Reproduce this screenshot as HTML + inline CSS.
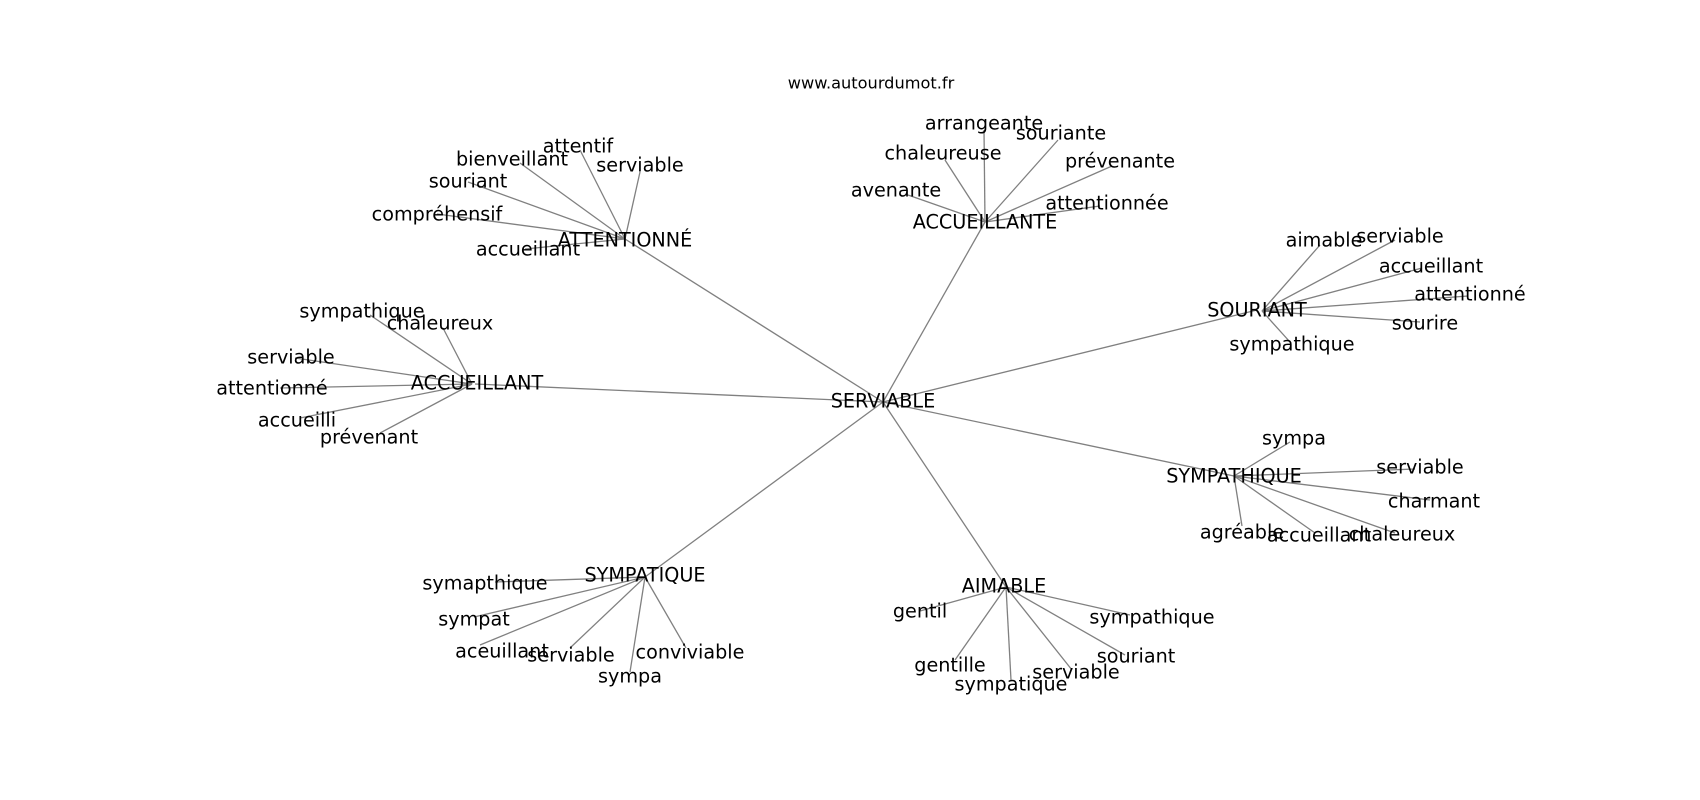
<!DOCTYPE html>
<html><head><meta charset="utf-8"><style>
html,body{margin:0;padding:0;background:#fff;}
svg{display:block;}
text{font-family:"DejaVu Sans","Liberation Sans",sans-serif;font-size:19.2px;fill:#000;text-anchor:middle;dominant-baseline:central;}
line{stroke:#808080;stroke-width:1.3;}
</style></head><body>
<svg width="1700" height="800" viewBox="0 0 1700 800" xmlns="http://www.w3.org/2000/svg">
<g>
<line x1="883" y1="402" x2="625" y2="239"/>
<line x1="883" y1="402" x2="475" y2="384"/>
<line x1="883" y1="402" x2="985" y2="222"/>
<line x1="883" y1="402" x2="1257" y2="310"/>
<line x1="883" y1="402" x2="1234" y2="476"/>
<line x1="883" y1="402" x2="645" y2="577"/>
<line x1="883" y1="402" x2="1006" y2="587"/>
<line x1="625" y1="239" x2="525" y2="249"/>
<line x1="625" y1="239" x2="437" y2="214"/>
<line x1="625" y1="239" x2="468" y2="182"/>
<line x1="625" y1="239" x2="520" y2="163"/>
<line x1="625" y1="239" x2="580" y2="150"/>
<line x1="625" y1="239" x2="640" y2="172"/>
<line x1="472" y1="384" x2="370" y2="315"/>
<line x1="472" y1="384" x2="443" y2="328"/>
<line x1="472" y1="384" x2="295" y2="358"/>
<line x1="472" y1="384" x2="280" y2="388"/>
<line x1="472" y1="384" x2="300" y2="418"/>
<line x1="472" y1="384" x2="380" y2="433"/>
<line x1="985" y1="222" x2="984" y2="130"/>
<line x1="985" y1="222" x2="1058" y2="140"/>
<line x1="985" y1="222" x2="945" y2="160"/>
<line x1="985" y1="222" x2="1112" y2="166"/>
<line x1="985" y1="222" x2="908" y2="195"/>
<line x1="985" y1="222" x2="1100" y2="206"/>
<line x1="1262" y1="311" x2="1320" y2="245"/>
<line x1="1262" y1="311" x2="1395" y2="240"/>
<line x1="1262" y1="311" x2="1422" y2="268"/>
<line x1="1262" y1="311" x2="1468" y2="296"/>
<line x1="1262" y1="311" x2="1420" y2="322"/>
<line x1="1262" y1="311" x2="1290" y2="342"/>
<line x1="1234" y1="476" x2="1290" y2="442"/>
<line x1="1234" y1="476" x2="1415" y2="469"/>
<line x1="1234" y1="476" x2="1430" y2="500"/>
<line x1="1234" y1="476" x2="1242" y2="526"/>
<line x1="1234" y1="476" x2="1315" y2="533"/>
<line x1="1234" y1="476" x2="1395" y2="533"/>
<line x1="645" y1="577" x2="495" y2="582"/>
<line x1="645" y1="577" x2="474" y2="617"/>
<line x1="645" y1="577" x2="480" y2="645"/>
<line x1="645" y1="577" x2="570" y2="648"/>
<line x1="645" y1="577" x2="686" y2="648"/>
<line x1="645" y1="577" x2="630" y2="672"/>
<line x1="1006" y1="587" x2="920" y2="611"/>
<line x1="1006" y1="587" x2="1130" y2="615"/>
<line x1="1006" y1="587" x2="955" y2="660"/>
<line x1="1006" y1="587" x2="1011" y2="680"/>
<line x1="1006" y1="587" x2="1072" y2="670"/>
<line x1="1006" y1="587" x2="1125" y2="655"/>
</g>
<text x="871" y="83" style="font-size:16.2px">www.autourdumot.fr</text>

<text x="883" y="401">SERVIABLE</text>

<text x="625" y="240">ATTENTIONNÉ</text>
<text x="528" y="249">accueillant</text>
<text x="437" y="214">compréhensif</text>
<text x="468" y="181">souriant</text>
<text x="512" y="159">bienveillant</text>
<text x="578" y="146">attentif</text>
<text x="640" y="165">serviable</text>

<text x="477" y="383">ACCUEILLANT</text>
<text x="362" y="311">sympathique</text>
<text x="440" y="323">chaleureux</text>
<text x="291" y="357">serviable</text>
<text x="272" y="388">attentionné</text>
<text x="297" y="420">accueilli</text>
<text x="369" y="437">prévenant</text>

<text x="985" y="222">ACCUEILLANTE</text>
<text x="984" y="123">arrangeante</text>
<text x="1061" y="133">souriante</text>
<text x="943" y="153">chaleureuse</text>
<text x="1120" y="161">prévenante</text>
<text x="896" y="190">avenante</text>
<text x="1107" y="203">attentionnée</text>

<text x="1257" y="310">SOURIANT</text>
<text x="1324" y="240">aimable</text>
<text x="1400" y="236">serviable</text>
<text x="1431" y="266">accueillant</text>
<text x="1470" y="294">attentionné</text>
<text x="1425" y="323">sourire</text>
<text x="1292" y="344">sympathique</text>

<text x="1234" y="476">SYMPATHIQUE</text>
<text x="1294" y="438">sympa</text>
<text x="1420" y="467">serviable</text>
<text x="1434" y="501">charmant</text>
<text x="1242" y="532">agréable</text>
<text x="1319" y="535">accueillant</text>
<text x="1402" y="534">chaleureux</text>

<text x="645" y="575">SYMPATIQUE</text>
<text x="485" y="583">symapthique</text>
<text x="474" y="619">sympat</text>
<text x="502" y="651">aceuillant</text>
<text x="571" y="655">serviable</text>
<text x="690" y="652">conviviable</text>
<text x="630" y="676">sympa</text>

<text x="1004" y="586">AIMABLE</text>
<text x="920" y="611">gentil</text>
<text x="1152" y="617">sympathique</text>
<text x="950" y="665">gentille</text>
<text x="1011" y="684">sympatique</text>
<text x="1076" y="672">serviable</text>
<text x="1136" y="656">souriant</text>
</svg>
</body></html>
